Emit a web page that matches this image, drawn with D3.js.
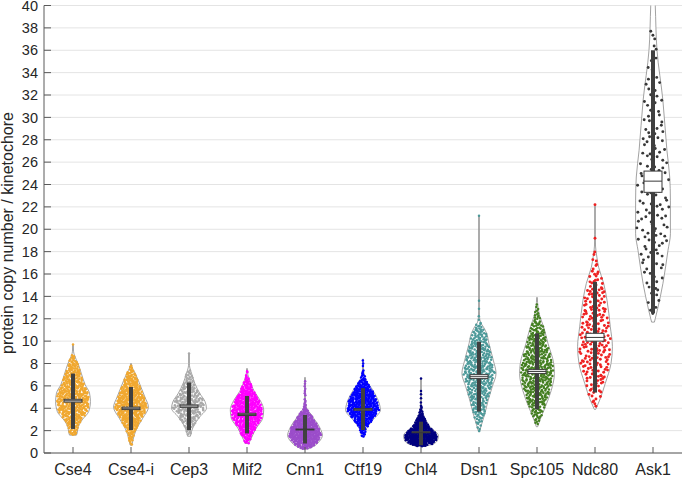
<!DOCTYPE html>
<html><head><meta charset="utf-8">
<script src="https://cdn.jsdelivr.net/npm/d3@7"></script>
<style>
body{margin:0;background:#fff}
svg{display:block}
text{font-family:"Liberation Sans",Arial,Helvetica,sans-serif;fill:#262626}
</style>
</head><body>
<svg id="chart" width="683" height="478"></svg>
<script>
// ---------------- data ----------------
const categories = ["Cse4","Cse4-i","Cep3","Mif2","Cnn1","Ctf19","Chl4","Dsn1","Spc105","Ndc80","Ask1"];
const pointColors = ["#f0a830","#f0a830","#a9a9a9","#ff00ff","#9b4dca","#0000ff","#00007f","#4d9999","#447f22","#ee2222","#383838"];
const pointCounts = [450,450,230,450,420,420,380,400,450,220,150];
const pointMax = [9.0,8.0,7.6,7.55,6.75,8.4,4.6,12.4,13.9,18.6,38.2];
const extremePoints = [[9.7],[],[8.9],[],[],[],[6.65,5.55,5.25,4.9],[21.2,13.6,12.9],[],[22.2,19.2],[]];
const whiskerLow  = [2.15,2.05,2.05,1.75,0.85,2.05,0.7,3.7,3.9,5.4,12.5];
const whiskerHigh = [7.1,5.9,6.3,5.1,3.4,5.8,2.8,9.95,10.7,15.3,36.0];
const boxLow  = [4.55,3.88,4.08,3.35,2.06,3.82,1.81,6.65,7.1,10.0,23.3];
const boxHigh = [4.8,4.1,4.3,3.55,2.14,3.98,1.89,7.0,7.45,10.7,25.2];
const medians = [4.67,4.0,4.2,3.45,2.1,3.9,1.85,6.82,7.28,10.33,24.3];
// violin outlines: [value, relative density]
const densityCse4  = [[1.6,0.2],[1.8,0.24],[2.35,0.3],[2.95,0.52],[3.7,0.9],[4.6,1.0],[5.35,0.95],[6.1,0.7],[7.1,0.48],[8.0,0.29],[8.75,0.08],[9.1,0.03],[9.7,0.02]];
const densityCse4i = [[0.7,0.05],[1.2,0.12],[2.05,0.29],[3.1,0.67],[4.1,1.0],[5.0,0.8],[5.9,0.57],[7.1,0.25],[7.6,0.08],[8.0,0.02]];
const densityCep3  = [[1.5,0.08],[2.35,0.25],[3.25,0.63],[4.0,1.0],[4.6,0.92],[5.3,0.63],[6.2,0.34],[7.1,0.15],[7.6,0.05],[8.0,0.02],[8.9,0.02]];
const densityMif2  = [[0.85,0.1],[1.5,0.3],[2.2,0.52],[3.1,0.9],[3.85,0.96],[4.7,0.76],[5.5,0.42],[6.5,0.15],[7.0,0.05],[7.55,0.02]];
const densityCnn1  = [[0.35,0.15],[0.6,0.5],[1.0,0.8],[1.6,1.0],[2.1,0.9],[2.65,0.71],[3.1,0.5],[3.4,0.38],[3.7,0.22],[4.0,0.1],[4.4,0.04],[5.0,0.025],[6.75,0.02]];
const densityCtf19 = [[1.45,0.09],[2.2,0.21],[2.95,0.57],[3.85,1.0],[4.75,0.86],[5.6,0.57],[6.5,0.19],[7.1,0.06],[7.5,0.03],[8.4,0.02]];
const densityChl4  = [[0.6,0.2],[0.8,0.7],[1.15,0.95],[1.55,1.0],[1.9,0.85],[2.2,0.6],[2.6,0.4],[2.95,0.28],[3.3,0.17],[3.6,0.1],[4.0,0.04],[4.5,0.02],[6.65,0.02]];
const densityDsn1  = [[1.9,0.03],[2.35,0.11],[3.54,0.34],[4.73,0.53],[5.92,0.76],[7.12,0.98],[8.3,0.82],[9.8,0.57],[10.69,0.44],[11.28,0.25],[11.7,0.08],[12.2,0.03],[13.0,0.02],[21.2,0.02]];
const densitySpc105= [[2.35,0.04],[2.95,0.17],[4.13,0.48],[5.6,0.82],[7.1,1.0],[8.0,0.96],[9.8,0.63],[11.28,0.38],[12.3,0.15],[13.0,0.06],[13.9,0.02]];
const densityNdc80 = [[3.9,0.04],[4.73,0.27],[6.22,0.59],[8.0,0.92],[9.5,1.0],[11.28,0.88],[13.66,0.69],[15.15,0.5],[16.6,0.21],[17.7,0.09],[18.5,0.03],[19.5,0.02],[22.2,0.02]];
const densityAsk1  = [[11.7,0.08],[12.77,0.25],[15.15,0.57],[18.1,0.86],[19.6,1.0],[22.6,1.0],[24.67,0.96],[27.05,0.8],[31.5,0.57],[36,0.23],[40,0.13],[43,0.05]];
const densityProfiles = [densityCse4,densityCse4i,densityCep3,densityMif2,densityCnn1,densityCtf19,densityChl4,densityDsn1,densitySpc105,densityNdc80,densityAsk1];
const yTickValues = [0,2,4,6,8,10,12,14,16,18,20,22,24,26,28,30,32,34,36,38,40];
const yLabel = "protein copy number / kinetochore";

// ---------------- layout ----------------
const svg = d3.select("#chart");
const x = d3.scaleLinear().domain([0.5, 11.5]).range([44, 682]);
const y = d3.scaleLinear().domain([0, 40]).range([453, 5.5]);
const violinHalf = 0.3, boxHalf = 0.155;

svg.append("defs").append("clipPath").attr("id","plotclip")
  .append("rect").attr("x",44).attr("y",y(40)).attr("width",638).attr("height",y(0)-y(40));

// grid
svg.append("g").selectAll("line").data(yTickValues).join("line")
  .attr("x1",x(0.5)).attr("x2",x(11.5))
  .attr("y1",d=>y(d)).attr("y2",d=>y(d))
  .attr("stroke","#e4e4e4").attr("stroke-width",1);

const plot = svg.append("g").attr("clip-path","url(#plotclip)");

function halton(i,b){let f=1,r=0;while(i>0){f/=b;r+=f*(i%b);i=Math.floor(i/b);}return r;}
function widthAt(prof,v){
  if(v<=prof[0][0]) return prof[0][1];
  for(let k=1;k<prof.length;k++){
    if(v<=prof[k][0]){const a=prof[k-1],b=prof[k];const t=(v-a[0])/(b[0]-a[0]);return a[1]+t*(b[1]-a[1]);}
  }
  return prof[prof.length-1][1];
}

categories.forEach((cat,i)=>{
  const pos = i+1;
  const prof = densityProfiles[i];
  const g = plot.append("g");
  // violin
  const area = d3.area()
    .y(d=>y(d[0]))
    .x0(d=>x(pos - violinHalf*d[1]))
    .x1(d=>x(pos + violinHalf*d[1]))
    .curve(d3.curveMonotoneY);
  g.append("path").attr("d",area(prof))
    .attr("fill","#ffffff").attr("stroke","#8a8a8a").attr("stroke-width",0.8);

  // scatter cloud placed inside the violin by its density (deterministic low-discrepancy placement)
  const vmin = prof[0][0], vmax = pointMax[i];
  const steps = 400, grid = [], cdf = [0];
  for(let s=0;s<=steps;s++) grid.push(vmin + (vmax-vmin)*s/steps);
  for(let s=1;s<=steps;s++){
    const m=(grid[s-1]+grid[s])/2; cdf.push(cdf[s-1]+widthAt(prof,m));
  }
  const total = cdf[steps];
  const pts = [];
  const off = 17 + i*131;
  for(let k=0;k<pointCounts[i];k++){
    const u = halton(k+off,2)*total;
    let s = d3.bisectLeft(cdf,u); s=Math.max(1,Math.min(steps,s));
    const t = (u-cdf[s-1])/(cdf[s]-cdf[s-1]||1);
    const v = grid[s-1]+t*(grid[s]-grid[s-1]);
    const j = halton(k+off,3)*2-1;
    pts.push([pos + j*violinHalf*widthAt(prof,v)*0.93, v]);
  }
  extremePoints[i].forEach(v=>pts.push([pos,v]));
  const r = i>=9 ? 1.45 : 1.25;
  g.append("g").selectAll("circle").data(pts).join("circle")
    .attr("cx",d=>x(d[0])).attr("cy",d=>y(d[1])).attr("r",r)
    .attr("fill",pointColors[i]);

  // thick range bar
  g.append("line").attr("x1",x(pos)).attr("x2",x(pos))
    .attr("y1",y(whiskerLow[i])).attr("y2",y(whiskerHigh[i]))
    .attr("stroke","#404040").attr("stroke-width",4);
  // median box
  g.append("rect").attr("x",x(pos-boxHalf)).attr("width",x(pos+boxHalf)-x(pos-boxHalf))
    .attr("y",y(boxHigh[i])).attr("height",Math.max(0.5,y(boxLow[i])-y(boxHigh[i])))
    .attr("fill","#ffffff").attr("stroke","#3a3a3a").attr("stroke-width",1);
  g.append("line").attr("x1",x(pos-boxHalf)).attr("x2",x(pos+boxHalf))
    .attr("y1",y(medians[i])).attr("y2",y(medians[i]))
    .attr("stroke","#3a3a3a").attr("stroke-width",1);
});

// axes
const axisColor = "#5a5a5a";
svg.append("line").attr("x1",x(0.5)).attr("x2",x(0.5)).attr("y1",y(0)).attr("y2",y(40))
  .attr("stroke",axisColor).attr("stroke-width",1);
svg.append("line").attr("x1",x(0.5)).attr("x2",x(11.5)).attr("y1",y(0)).attr("y2",y(0))
  .attr("stroke",axisColor).attr("stroke-width",1);
// y ticks (inside)
svg.append("g").selectAll("line").data(yTickValues).join("line")
  .attr("x1",x(0.5)).attr("x2",x(0.5)+7).attr("y1",d=>y(d)).attr("y2",d=>y(d))
  .attr("stroke",axisColor).attr("stroke-width",1);
svg.append("g").selectAll("text").data(yTickValues).join("text")
  .attr("x",38).attr("y",d=>y(d)).attr("dy","0.36em")
  .attr("text-anchor","end").attr("font-size",14.5).text(d=>d);
// x ticks
svg.append("g").selectAll("line").data(categories).join("line")
  .attr("x1",(d,i)=>x(i+1)).attr("x2",(d,i)=>x(i+1))
  .attr("y1",y(0)).attr("y2",y(0)-6)
  .attr("stroke",axisColor).attr("stroke-width",1);
svg.append("g").selectAll("text").data(categories).join("text")
  .attr("x",(d,i)=>x(i+1)).attr("y",475)
  .attr("text-anchor","middle").attr("font-size",16).text(d=>d);
// y label
svg.append("text").attr("transform","translate(13,233) rotate(-90)")
  .attr("text-anchor","middle").attr("font-size",16).text(yLabel);
</script>
</body></html>
